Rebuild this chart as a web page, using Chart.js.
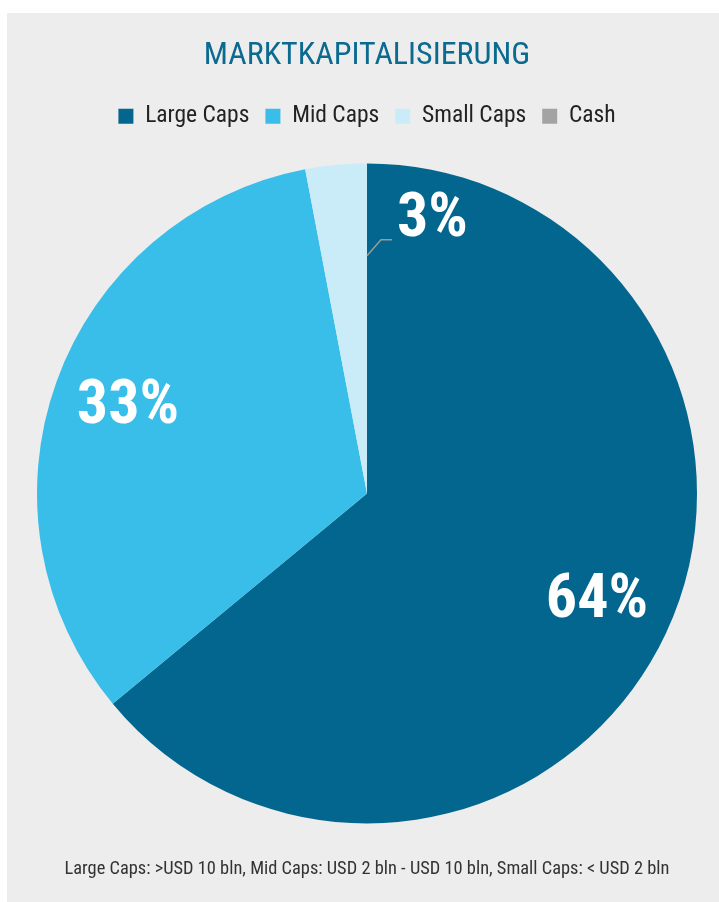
<!DOCTYPE html>
<html>
<head>
<meta charset="utf-8">
<script src="https://cdn.jsdelivr.net/npm/chart.js@4/dist/chart.umd.min.js"></script>
<style>
  html, body { margin: 0; padding: 0; background: #fff; }
  #panel { position: absolute; left: 7px; top: 13px; width: 712px; height: 889px; background: #ededed; }
</style>
</head>
<body>
<div id="panel"><canvas id="c"></canvas></div>
<script>
const categories = ["Large Caps", "Mid Caps", "Small Caps", "Cash"];
const shares = [64, 33, 3, 0];
const sliceColors = ["#03668e", "#38bee9", "#c9ecf8", "#a3a3a3"];
const chartTitle = "MARKTKAPITALISIERUNG";
const footNote = "Large Caps: >USD 10 bln, Mid Caps: USD 2 bln - USD 10 bln, Small Caps: < USD 2 bln";

const FONT = "'Roboto Condensed', 'DejaVu Sans Condensed', Roboto, sans-serif";

// percent labels inside the slices, small slice gets a leader line
const pctLabels = {
  id: "pctLabels",
  afterDatasetsDraw(chart) {
    const ctx = chart.ctx;
    const meta = chart.getDatasetMeta(0);
    ctx.save();
    ctx.fillStyle = "#fff";
    ctx.font = "bold 62px " + FONT;
    ctx.textBaseline = "middle";
    meta.data.forEach((arc, i) => {
      const v = shares[i];
      if (!v) return;
      const p = arc.getProps(["x", "y", "startAngle", "endAngle", "outerRadius"], true);
      const txt = v + "%";
      if (v >= 10) {
        const mid = (p.startAngle + p.endAngle) / 2;
        const r = p.outerRadius * 0.77;
        ctx.textAlign = "center";
        ctx.fillText(txt, p.x + Math.cos(mid) * r, p.y + Math.sin(mid) * r);
      } else {
        const r = p.outerRadius * 0.72;
        const sx = p.x + Math.cos(p.endAngle) * r;
        const sy = p.y + Math.sin(p.endAngle) * r;
        ctx.strokeStyle = "#9a9a9a";
        ctx.lineWidth = 1.5;
        ctx.beginPath();
        ctx.moveTo(sx, sy);
        ctx.lineTo(sx + 14, sy - 16);
        ctx.lineTo(sx + 25, sy - 16);
        ctx.stroke();
        ctx.textAlign = "left";
        ctx.fillText(txt, sx + 30, sy - 35);
      }
    });
    ctx.restore();
  }
};

new Chart(document.getElementById("c"), {
  type: "pie",
  data: {
    labels: categories,
    datasets: [{
      data: shares,
      backgroundColor: sliceColors,
      borderWidth: 0,
      radius: 330
    }]
  },
  options: {
    responsive: true,
    maintainAspectRatio: false,
    animation: false,
    layout: { padding: { left: 8, right: 0, top: 0, bottom: 0 } },
    plugins: {
      title: {
        display: true,
        text: chartTitle,
        color: "#0b6a8f",
        font: { family: FONT, size: 32, weight: "normal" },
        padding: { top: 24, bottom: 13 }
      },
      legend: {
        position: "top",
        labels: {
          boxWidth: 15,
          boxHeight: 15,
          color: "#222",
          font: { family: FONT, size: 23.5 },
          padding: 16
        }
      },
      subtitle: {
        display: true,
        position: "bottom",
        text: footNote,
        color: "#333",
        font: { family: FONT, size: 18.4 },
        padding: { top: 9, bottom: 22 }
      },
      tooltip: { enabled: false }
    }
  },
  plugins: [pctLabels]
});
</script>
</body>
</html>
